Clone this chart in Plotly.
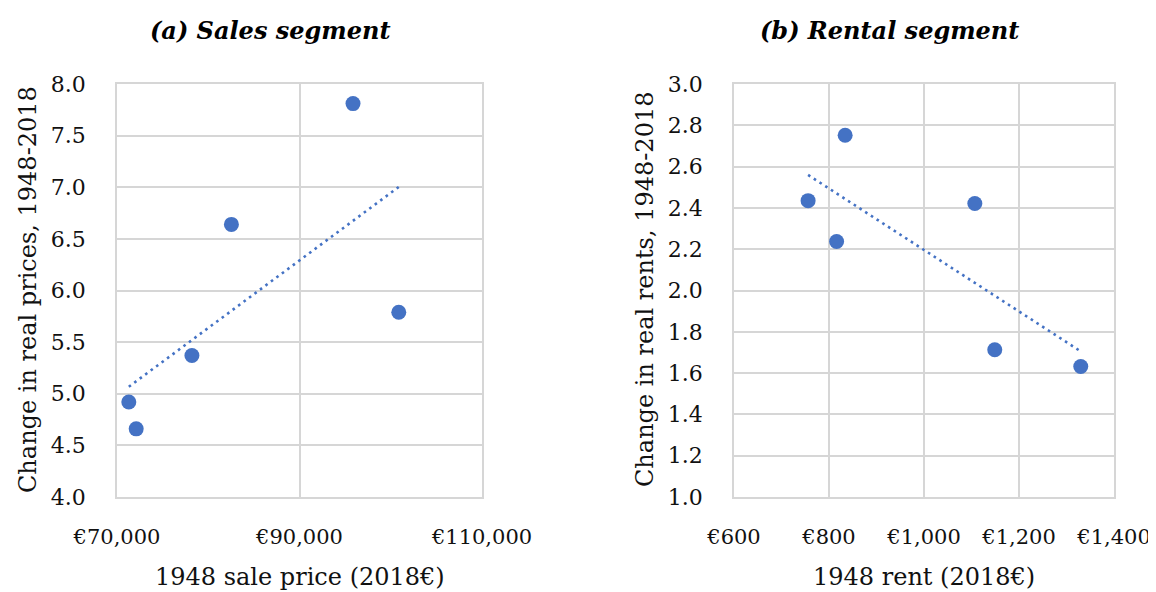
import numpy as np
import plotly.graph_objects as go

# ---- data ----
sales_price_1948 = [71294, 72103, 78210, 82538, 95864, 100880]
sales_change = [4.92, 4.66, 5.37, 6.64, 7.81, 5.79]

rent_1948 = [756, 816, 834, 1107, 1149, 1330]
rent_change = [2.435, 2.237, 2.752, 2.421, 1.713, 1.632]

title_a = "<b><i>(a) Sales segment</i></b>"
title_b = "<b><i>(b) Rental segment</i></b>"
ytitle_a = "Change in real prices, 1948-2018"
ytitle_b = "Change in real rents, 1948-2018"
xtitle_a = "1948 sale price (2018€)"
xtitle_b = "1948 rent (2018€)"

BLUE = "#4472C4"
GRID = "#d6d6d6"
FONT = "DejaVu Serif"
OFF = 8                      # page body margin offset
W, H = 1156 - OFF, 592 - OFF

def trend(x, y):
    m, b = np.polyfit(np.array(x, float), np.array(y, float), 1)
    xs = [min(x), max(x)]
    return xs, [m * v + b for v in xs]

fig = go.Figure()

ta_x, ta_y = trend(sales_price_1948, sales_change)
tb_x, tb_y = trend(rent_1948, rent_change)

fig.add_trace(go.Scatter(x=ta_x, y=ta_y, mode="lines", xaxis="x", yaxis="y",
                         line=dict(color=BLUE, width=2.6, dash="2.6px,4.2px"),
                         showlegend=False, hoverinfo="skip"))
fig.add_trace(go.Scatter(x=sales_price_1948, y=sales_change, mode="markers",
                         xaxis="x", yaxis="y",
                         marker=dict(color=BLUE, size=15), showlegend=False))
fig.add_trace(go.Scatter(x=tb_x, y=tb_y, mode="lines", xaxis="x2", yaxis="y2",
                         line=dict(color=BLUE, width=2.6, dash="2.6px,4.2px"),
                         showlegend=False, hoverinfo="skip"))
fig.add_trace(go.Scatter(x=rent_1948, y=rent_change, mode="markers",
                         xaxis="x2", yaxis="y2",
                         marker=dict(color=BLUE, size=15), showlegend=False))

# convert reference-screen pixel positions to paper coordinates
px = lambda v: (v - OFF) / W
py = lambda v: 1 - (v - OFF) / H

common_x = dict(showgrid=True, gridcolor=GRID, gridwidth=1.6, zeroline=False,
                showline=True, linecolor=GRID, linewidth=1.8, mirror=True,
                ticks="", ticklabelstandoff=20, automargin=False,
                tickfont=dict(family=FONT, size=21, color="#111"))
common_y = dict(showgrid=True, gridcolor=GRID, gridwidth=1.6, zeroline=False,
                showline=True, linecolor=GRID, linewidth=1.8, mirror=True,
                ticks="", ticklabelstandoff=25, automargin=False,
                tickfont=dict(family=FONT, size=22, color="#111"))

fig.update_layout(
    template="none",
    width=W, height=H,
    margin=dict(l=0, r=0, t=0, b=0),
    paper_bgcolor="white", plot_bgcolor="white",
    xaxis=dict(domain=[px(117), px(482)], range=[70000, 110000], dtick=20000,
               tick0=70000, tickprefix="€", tickformat=",", anchor="y", **common_x),
    yaxis=dict(domain=[py(497), py(84)], range=[4, 8], dtick=0.5,
               tickformat=".1f", anchor="x", **common_y),
    xaxis2=dict(domain=[px(734), px(1114)], range=[600, 1400], dtick=200,
                tick0=600, tickprefix="€", tickformat=",", anchor="y2", **common_x),
    yaxis2=dict(domain=[py(497), py(84)], range=[1, 3], dtick=0.2,
                tickformat=".1f", anchor="x2", **common_y),
)

ann = []
ann.append(dict(text=title_a, x=px(270), y=py(30), xref="paper", yref="paper",
                showarrow=False, xanchor="center", yanchor="middle",
                font=dict(family=FONT, size=24, color="#000")))
ann.append(dict(text=title_b, x=px(889), y=py(30), xref="paper", yref="paper",
                showarrow=False, xanchor="center", yanchor="middle",
                font=dict(family=FONT, size=24, color="#000")))
ann.append(dict(text=ytitle_a, x=px(28), y=py(290), xref="paper", yref="paper",
                showarrow=False, textangle=-90, xanchor="center", yanchor="middle",
                font=dict(family=FONT, size=24, color="#111")))
ann.append(dict(text=ytitle_b, x=px(645), y=py(290), xref="paper", yref="paper",
                showarrow=False, textangle=-90, xanchor="center", yanchor="middle",
                font=dict(family=FONT, size=24, color="#111")))
ann.append(dict(text=xtitle_a, x=px(300), y=py(577), xref="paper", yref="paper",
                showarrow=False, xanchor="center", yanchor="middle",
                font=dict(family=FONT, size=24, color="#111")))
ann.append(dict(text=xtitle_b, x=px(924), y=py(577), xref="paper", yref="paper",
                showarrow=False, xanchor="center", yanchor="middle",
                font=dict(family=FONT, size=24, color="#111")))
fig.update_layout(annotations=ann)

fig.write_html("out.html")
